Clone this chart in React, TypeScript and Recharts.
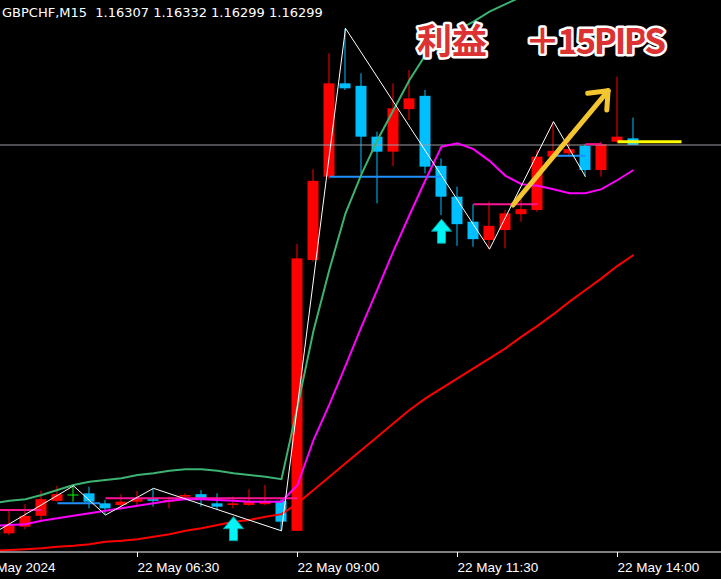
import React from 'react';
import { ComposedChart, Bar, Line, XAxis, YAxis, ReferenceLine, ReferenceDot } from 'recharts';

// ---- data (GBPCHF M15, 22 May 2024); bar 0 lies just off the left edge ----
const opens = [null,1.15833,1.15841,1.15854,1.15872,1.15879,1.15881,1.15869,1.15867,1.15871,1.15874,1.15871,1.15877,1.15880,1.15869,1.15867,1.15867,1.15868,1.15872,1.15836,1.16161,1.16261,1.16373,1.16370,1.16309,1.16291,1.16342,1.16358,1.16274,1.16237,1.16207,1.16185,1.16197,1.16216,1.16221,1.16285,1.16289,1.16298,1.16269,1.16303,1.16307];
const highs = [null,1.15861,1.15868,1.15884,1.15890,1.15890,1.15889,1.15873,1.15880,1.15884,1.15887,1.15877,1.15881,1.15885,1.15881,1.15877,1.15886,1.15891,1.15874,1.16180,1.16270,1.16409,1.16439,1.16385,1.16315,1.16373,1.16389,1.16365,1.16283,1.16249,1.16228,1.16231,1.16221,1.16237,1.16293,1.16327,1.16313,1.16300,1.16303,1.16381,1.16332];
const lows = [null,1.15831,1.15838,1.15848,1.15871,1.15871,1.15863,1.15855,1.15865,1.15866,1.15865,1.15863,1.15874,1.15865,1.15862,1.15863,1.15866,1.15867,1.15836,1.15836,1.16159,1.16258,1.16365,1.16265,1.16229,1.16274,1.16329,1.16265,1.16215,1.16178,1.16177,1.16174,1.16175,1.16207,1.16219,1.16281,1.16286,1.16261,1.16261,1.16302,1.16299];
const closes = [null,1.15842,1.15854,1.15874,1.15880,1.15879,1.15871,1.15863,1.15871,1.15874,1.15872,1.15873,1.15879,1.15874,1.15865,1.15869,1.15871,1.15872,1.15847,1.16163,1.16256,1.16373,1.16367,1.16309,1.16291,1.16343,1.16355,1.16273,1.16237,1.16204,1.16186,1.16202,1.16217,1.16222,1.16285,1.16292,1.16294,1.16269,1.16300,1.16309,1.16299];

const maGreen = [1.15869,1.15872,1.15874,1.15879,1.15885,1.15891,1.15895,1.15897,1.15899,1.15903,1.15905,1.15908,1.15910,1.15910,1.15908,1.15905,1.15903,1.15901,1.15898,1.15985,1.16076,1.16150,1.16217,1.16264,1.16305,1.16341,1.16377,1.16407,1.16425,1.16437,1.16447,1.16459,1.16468,1.16477,1.16484,1.16491,1.16497,1.16502,1.16505,1.16509,1.16511];
const maMagenta = [1.15842,1.15843,1.15844,1.15848,1.15851,1.15854,1.15857,1.15860,1.15863,1.15866,1.15869,1.15872,1.15874,1.15874,1.15873,1.15872,1.15871,1.15871,1.15871,1.15891,1.15945,1.15988,1.16034,1.16081,1.16126,1.16172,1.16215,1.16257,1.16297,1.16301,1.16294,1.16280,1.16262,1.16252,1.16250,1.16246,1.16241,1.16241,1.16246,1.16257,1.16269];
const maRed = [1.15812,1.15813,1.15814,1.15815,1.15817,1.15818,1.15820,1.15823,1.15824,1.15826,1.15829,1.15832,1.15836,1.15839,1.15843,1.15847,1.15849,1.15853,1.15856,1.15869,1.15885,1.15901,1.15917,1.15933,1.15949,1.15965,1.15981,1.15995,1.16007,1.16019,1.16031,1.16043,1.16055,1.16069,1.16082,1.16096,1.16111,1.16125,1.16139,1.16154,1.16167];

const zigzagIdx = [0, 5, 7, 10, 18, 22, 31, 35, 37];
const zigzagPrice = [1.15833, 1.15890, 1.15855, 1.15887, 1.15836, 1.16439, 1.16174, 1.16327, 1.16261];

const tickIdx = [-1, 9, 19, 29, 39];
const tickLabels = ['22 May 2024', '22 May 06:30', '22 May 09:00', '22 May 11:30', '22 May 14:00'];

const pinkLevels = [
  { from: -1, to: 3, price: 1.15861 },
  { from: 7, to: 19, price: 1.15875 },
  { from: 30, to: 34, price: 1.16228 },
  { from: 37, to: 38, price: 1.16300 },
];
const blueLevels = [
  { from: 4, to: 6.66, price: 1.15869 },
  { from: 21, to: 28, price: 1.16261 },
  { from: 35, to: 37, price: 1.16286 },
];
const yellowLevel = { from: 39, to: 43, price: 1.16303 };
const bidPrice = 1.16299;
const buySignals = [
  { i: 15, price: 1.15853 },
  { i: 28, price: 1.16210 },
];
const profitArrow = {
  tail: { i: 32.47, price: 1.16227 },
  tip: { i: 38.41, price: 1.16364 },
  wingA: { i: 37.14, price: 1.16361 },
  wingB: { i: 38.33, price: 1.16341 },
};

const header = 'GBPCHF,M15  1.16307 1.16332 1.16299 1.16299';
const profitLabel = '利益';
const profitPips = '＋15PIPS';

const data = maGreen.map((g, k) => ({
  i: k,
  o: opens[k],
  h: highs[k],
  l: lows[k],
  c: closes[k],
  range: opens[k] == null ? null : [lows[k], highs[k]],
  maGreen: g,
  maMagenta: maMagenta[k],
  maRed: maRed[k],
}));
const zigzagData = zigzagIdx.map((i, k) => ({ i, zz: zigzagPrice[k] }));

const X_DOMAIN: [number, number] = [-2.09375, 45.46875];
const Y_DOMAIN: [number, number] = [1.158106, 1.16473];

const Candle = (props: any) => {
  const { x, y, width, height, payload } = props;
  if (!payload || payload.o == null || x == null || y == null) return null;
  const { o, h, l, c } = payload;
  const span = h - l;
  const py = (v: number) => (span === 0 ? y : y + ((h - v) / span) * height);
  const wx = x + width / 2 - 0.5;
  if (o === c) {
    const by = py(o);
    return (
      <g>
        <rect x={wx} y={y} width={1} height={Math.max(1, height)} fill="#00ff00" />
        <rect x={x} y={by - 0.5} width={width} height={1} fill="#00ff00" />
      </g>
    );
  }
  const color = c > o ? '#ff0000' : '#00bfff';
  const top = py(Math.max(o, c));
  const bot = py(Math.min(o, c));
  return (
    <g>
      <rect x={wx} y={y} width={1} height={Math.max(1, height)} fill={color} />
      <rect x={x} y={top} width={width} height={Math.max(1, bot - top)} fill={color} />
    </g>
  );
};

const UpArrow = (props: any) => {
  const { cx, cy } = props;
  const d = `M${cx},${cy} L${cx + 10},${cy + 12} L${cx + 4},${cy + 12} L${cx + 4},${cy + 24} L${cx - 4},${cy + 24} L${cx - 4},${cy + 12} L${cx - 10},${cy + 12} Z`;
  return <path d={d} fill="#00f4f4" stroke="#00a8a8" strokeWidth={1} />;
};

const AxisTick = (props: any) => {
  const { x, y, payload } = props;
  const k = tickIdx.indexOf(payload.value);
  return (
    <text x={x} y={y + 13} fill="#ffffff" fontFamily="Liberation Sans, Arial, sans-serif" fontSize={13.5} textAnchor="start">
      {tickLabels[k]}
    </text>
  );
};

export default function App() {
  const seg = (a: number, b: number, p: number) => [{ x: a, y: p }, { x: b, y: p }] as any;
  return (
    <div style={{ position: 'relative', width: 721, height: 579, overflow: 'hidden', background: '#000' }}>
      <style>{`body{margin:0;background:#000}`}</style>
      <div style={{ position: 'absolute', left: -40, top: 0 }}>
        <ComposedChart width={761} height={579} data={data} margin={{ top: 0, right: 0, bottom: 0, left: 0 }}>
          <XAxis
            dataKey="i"
            type="number"
            domain={X_DOMAIN}
            allowDataOverflow
            ticks={tickIdx}
            interval={0}
            height={27}
            stroke="#ffffff"
            tickSize={5}
            tickMargin={2}
            tick={<AxisTick />}
            axisLine={{ stroke: '#ffffff', strokeWidth: 1 }}
            tickLine={{ stroke: '#ffffff' }}
          />
          <YAxis type="number" domain={Y_DOMAIN} allowDataOverflow hide />
          <ReferenceLine y={bidPrice} stroke="#9b9ba3" strokeWidth={1} ifOverflow="visible" />
          <Bar dataKey="range" barSize={11} shape={<Candle />} isAnimationActive={false} />
          {pinkLevels.map((lv, k) => (
            <ReferenceLine key={'p' + k} segment={seg(lv.from, lv.to, lv.price)} stroke="#ff1493" strokeWidth={2} ifOverflow="visible" />
          ))}
          {blueLevels.map((lv, k) => (
            <ReferenceLine key={'b' + k} segment={seg(lv.from, lv.to, lv.price)} stroke="#1e90ff" strokeWidth={2} ifOverflow="visible" />
          ))}
          <Line dataKey="maRed" stroke="#ff0000" strokeWidth={2} dot={false} activeDot={false} type="linear" isAnimationActive={false} />
          <Line dataKey="maMagenta" stroke="#ff00ff" strokeWidth={2} dot={false} activeDot={false} type="linear" isAnimationActive={false} />
          <Line dataKey="maGreen" stroke="#3cb371" strokeWidth={2} dot={false} activeDot={false} type="linear" isAnimationActive={false} />
          <Line data={zigzagData} dataKey="zz" stroke="#ffffff" strokeWidth={1} dot={false} activeDot={false} type="linear" isAnimationActive={false} />
          <ReferenceLine segment={seg(yellowLevel.from, yellowLevel.to, yellowLevel.price)} stroke="#ffff00" strokeWidth={3} ifOverflow="visible" />
          {buySignals.map((s, k) => (
            <ReferenceDot key={'a' + k} x={s.i} y={s.price} r={10} shape={<UpArrow />} ifOverflow="visible" />
          ))}
          {[
            [profitArrow.tail, profitArrow.tip],
            [profitArrow.wingA, profitArrow.tip],
            [profitArrow.wingB, profitArrow.tip],
          ].map((pair, k) => (
            <ReferenceLine
              key={'g' + k}
              segment={[{ x: pair[0].i, y: pair[0].price }, { x: pair[1].i, y: pair[1].price }]}
              stroke="#f3c52f"
              strokeWidth={5}
              strokeLinecap="round"
              ifOverflow="visible"
            />
          ))}
        </ComposedChart>
      </div>
      <svg width={721} height={579} style={{ position: 'absolute', left: 0, top: 0, pointerEvents: 'none' }}>
        <text x={2} y={17} fill="#ffffff" fontFamily="DejaVu Sans, sans-serif" fontSize={13} style={{ whiteSpace: 'pre' }}>
          {header}
        </text>
        <g fontFamily="Noto Sans CJK JP" fontWeight={700} fontSize={35} fill="#dc3232" stroke="#ffffff" strokeWidth={5} strokeLinejoin="round" style={{ paintOrder: 'stroke' }}>
          <text x={417} y={54}>{profitLabel}</text>
          <text x={525} y={54} textLength={141} lengthAdjust="spacing">{profitPips}</text>
        </g>
      </svg>
    </div>
  );
}
